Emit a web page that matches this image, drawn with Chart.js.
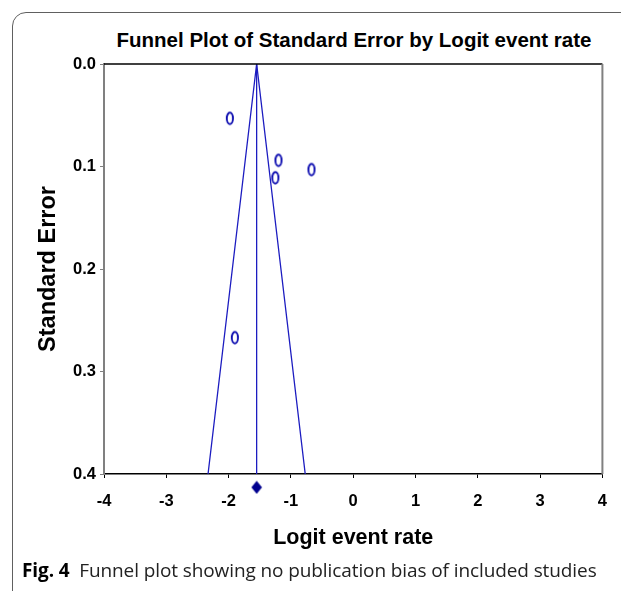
<!DOCTYPE html>
<html>
<head>
<meta charset="utf-8">
<script src="https://cdn.jsdelivr.net/npm/chart.js@4.4.1/dist/chart.umd.min.js"></script>
<style>
  html, body { margin: 0; padding: 0; background: #fff; }
  #wrap { position: relative; width: 621px; height: 591px; overflow: hidden; background: #fff; }
  #frame { position: absolute; left: 12px; top: 12px; width: 660px; height: 640px;
           border: 1.5px solid #606060; border-top-left-radius: 14px; box-sizing: border-box; }
  #title { position: absolute; left: 104px; width: 500px; top: 28px; text-align: center;
           font: bold 20.5px "Liberation Sans", Arial, sans-serif; line-height: 24px; color: #000; white-space: nowrap; }
  #caption { position: absolute; left: 22px; top: 557px; font: 19px "Open Sans", sans-serif;
             line-height: 26px; color: #222; white-space: nowrap; letter-spacing: -0.1px; }
  #caption b { font-weight: bold; color: #000; }
  canvas { position: absolute; left: 0; top: 0; }
</style>
</head>
<body>
<div id="wrap">
  <div id="frame"></div>
  <div id="title">Funnel Plot of Standard Error by Logit event rate</div>
  <canvas id="c" width="621" height="591"></canvas>
  <div id="caption"><b>Fig. 4</b>&nbsp; Funnel plot showing no publication bias of included studies</div>
</div>
<script>
// ---- data ----
const studyLogit = [-1.98, -1.20, -1.25, -0.67, -1.90];
const studySE    = [0.053, 0.094, 0.111, 0.103, 0.267];
const pooledLogit = -1.55;
const funnelX = [-2.33, -1.55, -0.77];
const funnelY = [0.4, 0.0, 0.4];
const meanLineX = [-1.55, -1.55];
const meanLineY = [0.0, 0.4];
const diamondSE = 0.413;
const xTicks = [-4, -3, -2, -1, 0, 1, 2, 3, 4];
const yTicks = [0.0, 0.1, 0.2, 0.3, 0.4];

const BLUE = '#1c1cc0';

function ellipseIcon() {
  const c = document.createElement('canvas');
  c.width = 10; c.height = 16;
  const g = c.getContext('2d');
  g.strokeStyle = '#0c0cb0'; g.lineWidth = 1.9;
  g.beginPath(); g.ellipse(5, 8, 3.1, 5.7, 0, 0, Math.PI * 2); g.stroke();
  return c;
}
function diamondIcon() {
  const c = document.createElement('canvas');
  c.width = 12; c.height = 14;
  const g = c.getContext('2d');
  g.fillStyle = '#00008f';
  g.beginPath(); g.moveTo(6, 0.5); g.lineTo(11.3, 7); g.lineTo(6, 13.5); g.lineTo(0.7, 7); g.closePath(); g.fill();
  return c;
}

const framePlugin = {
  id: 'frame',
  afterDatasetsDraw(chart) {
    const {ctx, chartArea: a} = chart;
    ctx.save();
    ctx.strokeStyle = '#000'; ctx.lineWidth = 1.5;
    ctx.beginPath(); ctx.moveTo(a.left, a.top); ctx.lineTo(a.right, a.top); ctx.stroke();
    ctx.strokeStyle = '#808080'; ctx.lineWidth = 2;
    ctx.beginPath(); ctx.moveTo(a.right, a.top); ctx.lineTo(a.right, a.bottom); ctx.stroke();
    ctx.restore();
  }
};

const tickFont = {family: '"Liberation Sans", Arial, sans-serif', size: 16.5, weight: 'bold'};

new Chart(document.getElementById('c'), {
  type: 'scatter',
  data: {
    datasets: [
      { label: 'funnel', data: funnelX.map((x, i) => ({x, y: funnelY[i]})), showLine: true,
        borderColor: BLUE, borderWidth: 1.3, pointRadius: 0, fill: false },
      { label: 'mean', data: meanLineX.map((x, i) => ({x, y: meanLineY[i]})), showLine: true,
        borderColor: BLUE, borderWidth: 1.3, pointRadius: 0, fill: false },
      { label: 'studies', data: studyLogit.map((x, i) => ({x, y: studySE[i]})),
        pointStyle: ellipseIcon(), pointRadius: 6 },
      { label: 'pooled', data: [{x: pooledLogit, y: diamondSE}], pointStyle: diamondIcon(),
        pointRadius: 15, pointHoverRadius: 15, pointBorderWidth: 0, clip: false }
    ]
  },
  options: {
    responsive: false,
    animation: false,
    layout: { padding: { left: 29, right: 17, top: 64, bottom: 36.4 } },
    plugins: { legend: { display: false }, tooltip: { enabled: false }, title: { display: false } },
    scales: {
      x: {
        type: 'linear', min: -4, max: 4,
        afterBuildTicks(s) { s.ticks = xTicks.map(v => ({value: v})); },
        afterFit(s) { s.height = 80.6; },
        grid: { display: true, drawOnChartArea: false, color: '#000', tickLength: 4, lineWidth: 1 },
        border: { color: '#000', width: 1.5 },
        ticks: { color: '#000', font: tickFont, padding: 14, maxRotation: 0, callback: v => String(v) },
        title: { display: true, text: 'Logit event rate', color: '#000',
                 font: {family: '"Liberation Sans", Arial, sans-serif', size: 21.5, weight: 'bold'},
                 padding: {top: 4, bottom: 4} }
      },
      y: {
        type: 'linear', min: 0, max: 0.4, reverse: true,
        afterBuildTicks(s) { s.ticks = yTicks.map(v => ({value: v})); },
        afterFit(s) { s.width = 75; },
        grid: { display: true, drawOnChartArea: false, color: '#808080', tickLength: 4, lineWidth: 1 },
        border: { color: '#808080', width: 2 },
        ticks: { color: '#000', font: tickFont, padding: 4, callback: v => v.toFixed(1) },
        title: { display: true, text: 'Standard Error', color: '#000',
                 font: {family: '"Liberation Sans", Arial, sans-serif', size: 23.5, weight: 'bold'},
                 padding: {top: 5, bottom: 4} }
      }
    }
  },
  plugins: [framePlugin]
});
</script>
</body>
</html>
